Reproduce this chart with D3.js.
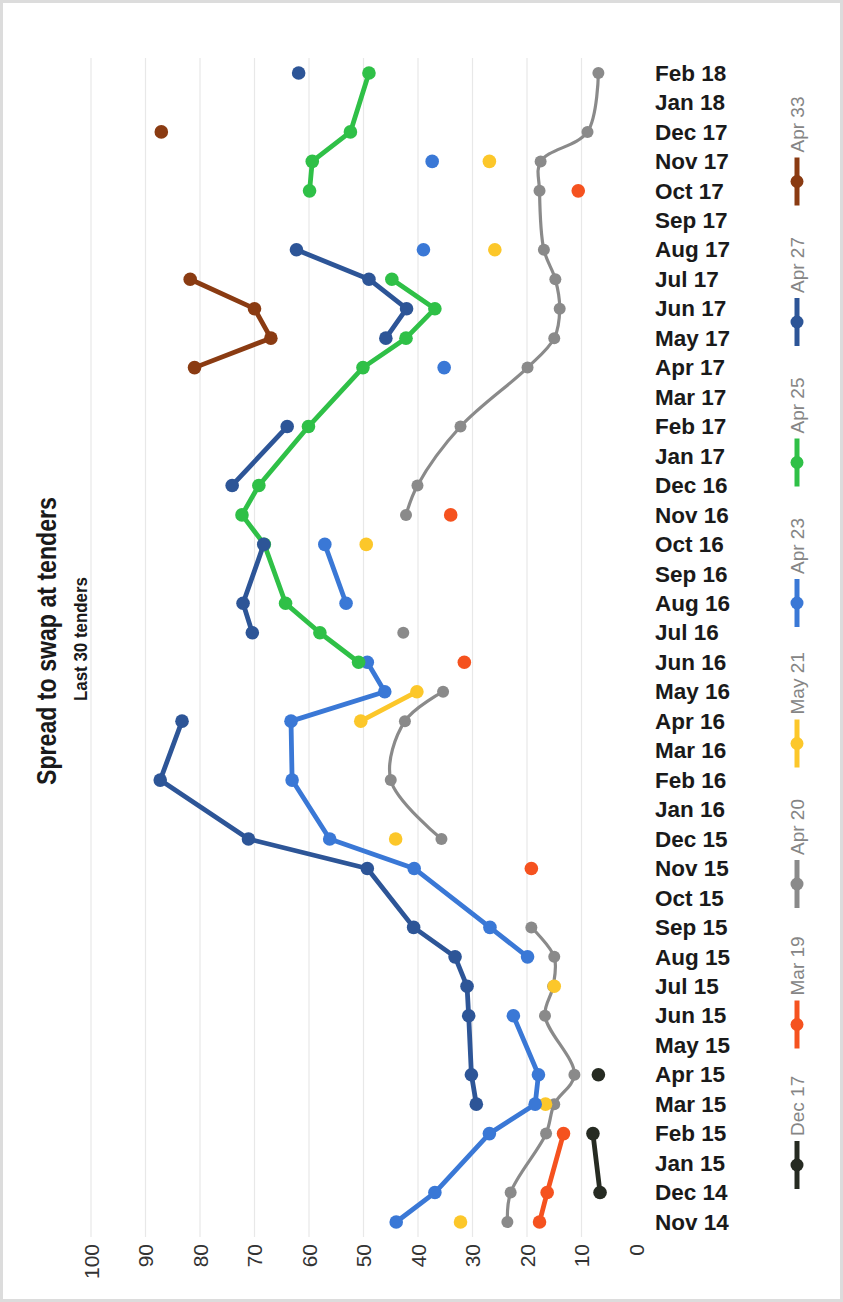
<!DOCTYPE html>
<html>
<head>
<meta charset="utf-8">
<script src="https://cdn.jsdelivr.net/npm/d3@7"></script>
<style>
  html, body { margin: 0; padding: 0; background: #fff; }
  svg { display: block; }
</style>
</head>
<body>
<svg id="chart" width="843" height="1302"></svg>
<script>
// Every calendar month shown on the date axis
const months = [
  "Nov 14","Dec 14","Jan 15","Feb 15","Mar 15","Apr 15","May 15","Jun 15","Jul 15","Aug 15",
  "Sep 15","Oct 15","Nov 15","Dec 15","Jan 16","Feb 16","Mar 16","Apr 16","May 16","Jun 16",
  "Jul 16","Aug 16","Sep 16","Oct 16","Nov 16","Dec 16","Jan 17","Feb 17","Mar 17","Apr 17",
  "May 17","Jun 17","Jul 17","Aug 17","Sep 17","Oct 17","Nov 17","Dec 17","Jan 18","Feb 18"
];

// The 30 tender dates
const tenders = [
  "Nov 14","Dec 14","Feb 15","Mar 15","Apr 15","Jun 15","Jul 15","Aug 15","Sep 15","Nov 15",
  "Dec 15","Feb 16","Apr 16","May 16","Jun 16","Jul 16","Aug 16","Oct 16","Nov 16","Dec 16",
  "Feb 17","Apr 17","May 17","Jun 17","Jul 17","Aug 17","Oct 17","Nov 17","Dec 17","Feb 18"
];

// Spread to swap (bp) per bond line at each tender; null = not tendered
const n = null;
const dec17 = [n,6.6,7.9,n,6.9,n,n,n,n,n, n,n,n,n,n,n,n,n,n,n, n,n,n,n,n,n,n,n,n,n];
const mar19 = [17.7,16.3,13.3,n,n,n,n,n,n,19.2, n,n,n,n,31.5,n,n,n,34,n, n,n,n,n,n,n,10.6,n,n,n];
const apr20 = [23.6,23,16.5,15,11.3,16.7,15.2,15,19.2,n, 35.7,45,42.4,35.4,n,42.7,n,n,42.2,40.1, 32.2,19.9,15,14,14.8,16.9,17.7,17.5,8.9,6.9];
const may21 = [32.2,n,n,16.6,n,n,15,n,n,n, 44.1,n,50.5,40.2,n,n,n,49.5,n,n, n,n,n,n,n,25.9,n,26.9,n,n];
const apr23 = [44,36.9,26.9,18.5,17.9,22.5,n,19.9,26.8,40.7, 56.2,63.1,63.3,46.1,49.3,n,53.2,57.1,n,n, n,35.2,n,n,n,39,n,37.4,n,n];
const apr25 = [n,n,n,n,n,n,n,n,n,n, n,n,n,n,50.9,58,64.3,68.2,72.3,69.2, 60.1,50.1,42.2,36.9,44.8,n,59.9,59.4,52.4,49];
const apr27 = [n,n,n,29.3,30.2,30.7,31,33.2,40.8,49.3, 71.1,87.3,83.3,n,n,70.4,72.1,68.3,n,74.1, 64,n,45.9,42.1,49,62.3,n,n,n,61.9];
const apr33 = [n,n,n,n,n,n,n,n,n,n, n,n,n,n,n,n,n,n,n,n, n,81,67,70,81.8,n,n,n,87.1,n];

const seriesNames  = ["Dec 17","Mar 19","Apr 20","May 21","Apr 23","Apr 25","Apr 27","Apr 33"];
const seriesValues = [dec17, mar19, apr20, may21, apr23, apr25, apr27, apr33];
const seriesColors = ["#262b22","#f5521f","#8a8a8a","#fcc72a","#3a78d6","#2fc047","#2d5597","#8a3b12"];

const valueTicks = [0,10,20,30,40,50,60,70,80,90,100];

const svg = d3.select("#chart");

// faint outer frame
svg.append("rect")
  .attr("x", 1.5).attr("y", 1.5).attr("width", 840).attr("height", 1299)
  .attr("fill", "#fff").attr("stroke", "#dcdcdc").attr("stroke-width", 3);

// value runs right-to-left, months bottom-to-top
const x = d3.scaleLinear().domain([0, 100]).range([636, 91]);
const y = d3.scalePoint().domain(months).range([1222, 73]);
const plotTop = 58, plotBottom = 1237;

// gridlines
svg.append("g")
  .selectAll("line")
  .data(valueTicks.filter(v => v > 0))
  .join("line")
  .attr("x1", d => x(d)).attr("x2", d => x(d))
  .attr("y1", plotTop).attr("y2", plotBottom)
  .attr("stroke", "#e8e8e8").attr("stroke-width", 1.2);

// value axis (labels rotated)
const xAxis = svg.append("g")
  .attr("transform", `translate(0,1244)`)
  .call(d3.axisBottom(x).tickValues(valueTicks).tickSize(0).tickFormat(d3.format("d")));
xAxis.select(".domain").remove();
xAxis.selectAll("text")
  .attr("transform", "rotate(-90)")
  .attr("x", 0).attr("y", 7).attr("dy", 0)
  .attr("text-anchor", "end")
  .attr("fill", "#333")
  .style("font-family", "'Liberation Sans', Arial, sans-serif")
  .style("font-size", "21px");

// month axis
const yAxis = svg.append("g")
  .attr("transform", "translate(655,0)")
  .call(d3.axisRight(y).tickSize(0).tickPadding(0));
yAxis.select(".domain").remove();
yAxis.selectAll("text")
  .attr("fill", "#1a1a1a")
  .style("font-family", "'Liberation Sans', Arial, sans-serif")
  .style("font-weight", "bold")
  .style("font-size", "22.5px");

// series lines and markers
const plot = svg.append("g");
seriesValues.forEach((vals, i) => {
  const pts = tenders.map((m, k) => ({ m, v: vals[k] }));
  const isGrey = seriesNames[i] === "Apr 20";
  const line = d3.line()
    .defined(d => d.v != null)
    .x(d => x(d.v))
    .y(d => y(d.m))
    .curve(isGrey ? d3.curveCatmullRom.alpha(0.5) : d3.curveLinear);
  plot.append("path")
    .datum(pts)
    .attr("d", line)
    .attr("fill", "none")
    .attr("stroke", seriesColors[i])
    .attr("stroke-width", isGrey ? 3.2 : 4.8)
    .attr("stroke-linejoin", "round")
    .attr("stroke-linecap", "round");
  plot.append("g")
    .selectAll("circle")
    .data(pts.filter(d => d.v != null))
    .join("circle")
    .attr("cx", d => x(d.v))
    .attr("cy", d => y(d.m))
    .attr("r", isGrey ? 6 : 6.8)
    .attr("fill", seriesColors[i]);
});

// title
svg.append("text")
  .attr("transform", "translate(56,641) rotate(-90)")
  .attr("text-anchor", "middle")
  .attr("textLength", 288).attr("lengthAdjust", "spacingAndGlyphs")
  .attr("fill", "#1a1a1a")
  .style("font-family", "'Liberation Sans Narrow', 'Liberation Sans', Arial, sans-serif")
  .style("font-weight", "bold")
  .style("font-size", "28px")
  .text("Spread to swap at tenders");

svg.append("text")
  .attr("transform", "translate(87,639) rotate(-90)")
  .attr("text-anchor", "middle")
  .attr("textLength", 124).attr("lengthAdjust", "spacingAndGlyphs")
  .attr("fill", "#1a1a1a")
  .style("font-family", "'Liberation Sans Narrow', 'Liberation Sans', Arial, sans-serif")
  .style("font-weight", "bold")
  .style("font-size", "19px")
  .text("Last 30 tenders");

// legend, reading bottom to top
const legend = svg.append("g");
seriesNames.forEach((name, i) => {
  const cy = 1165 - i * 140.5;
  const g = legend.append("g");
  g.append("line")
    .attr("x1", 797).attr("x2", 797)
    .attr("y1", cy - 24).attr("y2", cy + 24)
    .attr("stroke", seriesColors[i]).attr("stroke-width", 5);
  g.append("circle")
    .attr("cx", 797).attr("cy", cy).attr("r", 6.5)
    .attr("fill", seriesColors[i]);
  g.append("text")
    .attr("transform", `translate(804,${cy - 29}) rotate(-90)`)
    .attr("text-anchor", "start")
    .attr("fill", "#858585")
    .style("font-family", "'Liberation Sans Narrow', 'Liberation Sans', Arial, sans-serif")
    .style("font-size", "19px")
    .text(name);
});
</script>
</body>
</html>
